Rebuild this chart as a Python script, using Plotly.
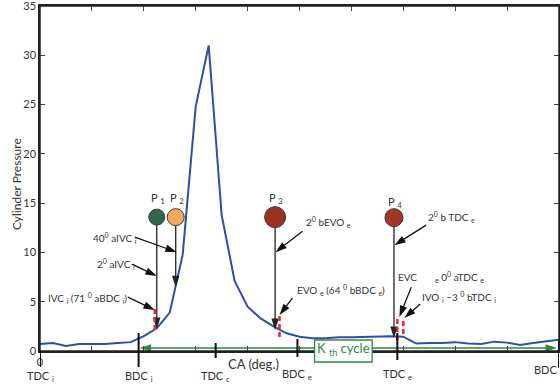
import plotly.graph_objects as go

# ---------------- data ----------------
crank = [0.0, 0.25, 0.5, 0.75, 1.0, 1.25, 1.5, 1.75, 2.0, 2.25, 2.5, 2.75, 3.0, 3.25,
         3.5, 3.75, 4.0, 4.25, 4.5, 4.75, 5.0, 5.25, 5.5, 5.75, 6.0, 6.25, 6.5, 6.75,
         7.0, 7.25, 7.5, 7.75, 8.0, 8.25, 8.5, 8.75, 9.0, 9.25, 9.5, 9.75, 10.0]
pressure = [0.7, 0.8, 0.5, 0.7, 0.7, 0.7, 0.8, 0.9, 1.5, 2.3, 3.9, 9.8, 24.8, 31.0,
            13.8, 7.1, 4.5, 3.3, 2.5, 1.8, 1.45, 1.3, 1.3, 1.4, 1.4, 1.45, 1.5, 1.5,
            1.45, 0.75, 0.8, 0.8, 0.9, 0.75, 0.7, 0.95, 0.85, 0.6, 0.8, 0.95, 1.15]

event_x = [0.0, 1.9, 3.385, 4.96, 6.885, 10.0]
event_names = ["TDC", "BDC", "TDC", "BDC", "TDC", "BDC"]
event_subs = ["i", "i", "c", "e", "e", ""]

p_names = ["1", "2", "3", "4"]
p_x = [2.25, 2.615, 4.53, 6.82]
p_y = [13.58, 13.58, 13.58, 13.53]
p_tip = [2.23, 6.48, 2.13, 1.32]
p_colors = ["#2e6a4a", "#f7a85c", "#9a3222", "#a23821"]

x_major = [0]
x_major_text = ["0"]
x_minor = [1, 2, 3, 4, 5, 6, 7, 8, 9, 10]
y_ticks = [0, 5, 10, 15, 20, 25, 30, 35]

# ---------------- style ----------------
FONT = "Lato"
TXT = "#333333"
GREEN = "#2c8a3c"
RED = "#e8262a"
L, R, T, B = 40, 1, 6, 39
W, H = 560, 390
PW = W - L - R
PH = H - T - B


def py2paper(py):
    return (H - B - py) / PH


def px2paper(px):
    return (px - L) / PW


fig = go.Figure()

fig.add_trace(go.Scatter(x=crank, y=pressure, mode="lines",
                         line=dict(color="#2f4ea6", width=2), showlegend=False,
                         hoverinfo="skip"))


def arrow(x0, y0, x1, y1, color="#1a1a1a", width=1.3, size=12):
    fig.add_trace(go.Scatter(x=[x0, x1], y=[y0, y1], mode="lines+markers",
                             line=dict(color=color, width=width),
                             marker=dict(symbol="arrow", size=[0, size], color=color,
                                         angleref="previous", opacity=1,
                                         line=dict(width=0)),
                             showlegend=False, hoverinfo="skip"))


sizes = [16, 17, 21, 18]

# vertical lines from circles with arrows
for xv, yv, tip in zip(p_x, p_y, p_tip):
    arrow(xv, yv, xv, tip, color="#222222")

# circles
fig.add_trace(go.Scatter(x=p_x, y=p_y, mode="markers", showlegend=False,
                         marker=dict(size=sizes, color=p_colors, opacity=1,
                                     line=dict(color="#3a3a3a", width=1)),
                         hoverinfo="skip"))

annotations = []
shapes = []

# frame (drawn first so later shapes sit on top of it)
shapes.append(dict(type="rect", xref="paper", yref="paper", x0=0, x1=1, y0=0, y1=1,
                   line=dict(color="#222222", width=1.5), layer="above"))

# P labels
p_label_py = [198, 198, 198, 202]
for name, xv, py in zip(p_names, p_x, p_label_py):
    annotations.append(dict(x=xv + 0.02, y=(351 - py) / 9.87, xref="x", yref="y",
                            text="P <sub>%s</sub>" % name, showarrow=False,
                            font=dict(family=FONT, size=11, color=TXT),
                            xanchor="center", yanchor="middle"))

# text labels with arrows
texts = [
    ("40<sup>0</sup> aIVC <sub>i</sub>", 1.904, 11.45, "right", (1.827, 11.55), (2.635, 10.03)),
    ("2<sup>0</sup> aIVC <sub>i</sub>", 1.865, 8.81, "right", (1.769, 8.81), (2.25, 7.6)),
    ("IVC <sub>i</sub> (71 <sup>0</sup> aBDC <sub>i</sub>)", 1.712, 5.37, "right", (1.692, 5.47), (2.212, 4.15)),
    ("2<sup>0</sup> bEVO <sub>e</sub>", 5.077, 13.07, "left", (5.058, 12.16), (4.538, 10.03)),
    ("EVO <sub>e</sub> (64 <sup>0</sup> bBDC <sub>e</sub>)", 4.904, 6.18, "left", (4.865, 5.37), (4.615, 3.65)),
    ("2<sup>0</sup> b TDC <sub>e</sub>", 7.442, 13.58, "left", (7.442, 12.77), (6.827, 10.74)),
    ("EVC", 6.865, 7.5, "left", (7.154, 6.48), (6.923, 3.44)),
    ("IVO <sub>i</sub> \u22123 <sup>0</sup> bTDC <sub>i</sub>", 7.327, 5.47, "left", (7.327, 4.76), (7.019, 3.34)),
]
for txt, tx, ty, anc, st, en in texts:
    annotations.append(dict(x=tx, y=ty, xref="x", yref="y", text=txt, showarrow=False,
                            xanchor=anc, yanchor="middle",
                            font=dict(family=FONT, size=10, color=TXT)))
    arrow(st[0], st[1], en[0], en[1], color="#111111")
annotations.append(dict(x=7.577, y=7.5, xref="x", yref="y",
                        text="<sub>e</sub> 0<sup>0</sup> aTDC <sub>e</sub>", showarrow=False,
                        xanchor="left", yanchor="middle",
                        font=dict(family=FONT, size=10, color=TXT)))

# red dashed markers
red = [(2.21, 2.13, 4.36), (4.615, 1.42, 3.65), (6.885, 1.11, 3.44), (7.0, 1.72, 3.14)]
for xv, y0, y1 in red:
    shapes.append(dict(type="line", xref="x", yref="y", x0=xv, x1=xv, y0=y0, y1=y1,
                       line=dict(color=RED, width=2.5, dash="5px,3px"), layer="above"))

# Kth cycle box (x extent in axis units)
box_x0, box_x1 = 5.29, 6.40

# green double arrow (cycle span), split around the box
cyc_y = (351 - 348) / 9.87
arrow(box_x0, cyc_y, 1.92, cyc_y, color=GREEN, width=1.4, size=12)
arrow(box_x1, cyc_y, 9.96, cyc_y, color=GREEN, width=1.4, size=12)

# event tick lines + labels
ext = [(351, 367), (333, 367), (343, 358), (339, 357), (333, 360), (340, 368)]
lab_py = [376, 376, 376, 374, 374, 369]
for xv, nm, sb, (a, b), lp in zip(event_x, event_names, event_subs, ext, lab_py):
    shapes.append(dict(type="line", xref="x", yref="paper", x0=xv, x1=xv,
                       y0=py2paper(a), y1=py2paper(b),
                       line=dict(color="#111111", width=2), layer="above"))
    t = nm + (" <sub>%s</sub>" % sb if sb else "")
    annotations.append(dict(x=xv, y=py2paper(lp), xref="x", yref="paper", text=t,
                            showarrow=False,
                            xanchor="right" if xv >= 10 else "center",
                            yanchor="middle",
                            font=dict(family=FONT, size=11, color=TXT)))

shapes.append(dict(type="rect", xref="x", yref="paper", x0=box_x0, x1=box_x1,
                   y0=py2paper(362), y1=py2paper(340), fillcolor="white",
                   line=dict(color=GREEN, width=1.3), layer="above"))
annotations.append(dict(x=(box_x0 + box_x1) / 2, y=py2paper(349), xref="x", yref="paper",
                        text="K <sub>th</sub> cycle", showarrow=False,
                        xanchor="center", yanchor="middle",
                        font=dict(family=FONT, size=13, color=GREEN)))

annotations.append(dict(x=4.12, y=py2paper(364), xref="x", yref="paper",
                        text="CA (deg.)", showarrow=False, xanchor="center",
                        yanchor="middle", font=dict(family=FONT, size=13, color=TXT)))

# y axis title
annotations.append(dict(x=px2paper(16), y=py2paper(184), xref="paper", yref="paper",
                        text="Cylinder Pressure", textangle=-90, showarrow=False,
                        xanchor="center", yanchor="middle",
                        font=dict(family=FONT, size=12, color=TXT)))

fig.update_layout(
    width=W, height=H,
    margin=dict(l=L, r=R, t=T, b=B),
    paper_bgcolor="white", plot_bgcolor="white",
    showlegend=False,
    font=dict(family=FONT, size=11, color=TXT),
    annotations=annotations, shapes=shapes,
    xaxis=dict(range=[0, 10], tickvals=x_major, ticktext=x_major_text,
               ticks="inside", ticklen=5, tickcolor="#444444", tickwidth=1,
               minor=dict(tickvals=x_minor, ticks="inside", ticklen=5,
                          tickcolor="#444444", tickwidth=1, showgrid=False),
               showline=True, linecolor="#222222", linewidth=1.5, mirror="ticks",
               showgrid=False, zeroline=False, automargin=False,
               ticklabeloverflow="allow",
               tickfont=dict(family=FONT, size=11, color=TXT)),
    yaxis=dict(range=[0, 35], tickvals=y_ticks,
               ticks="inside", ticklen=5, tickcolor="#444444", tickwidth=1,
               showline=True, linecolor="#222222", linewidth=1.5, mirror="ticks",
               showgrid=False, zeroline=False, automargin=False,
               ticklabeloverflow="allow",
               tickfont=dict(family=FONT, size=11, color=TXT)),
)

fig.write_html("out.html")
